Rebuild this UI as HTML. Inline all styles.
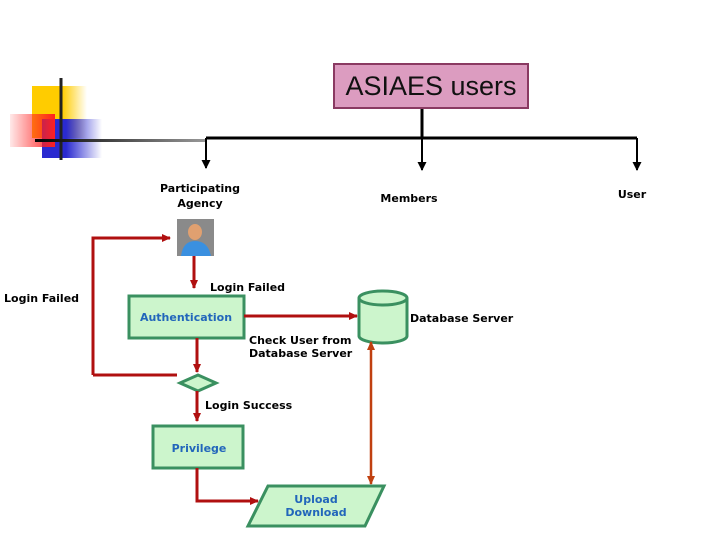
<!DOCTYPE html>
<html><head><meta charset="utf-8"><style>
html,body{margin:0;padding:0;background:#fff;width:720px;height:540px;overflow:hidden}
svg text{font-family:"DejaVu Sans","Liberation Sans",sans-serif;font-size:11px;font-weight:bold}
</style></head><body>
<svg width="720" height="540" viewBox="0 0 720 540" xmlns="http://www.w3.org/2000/svg">
<defs>
<linearGradient id="gy" x1="0" x2="1"><stop offset="0.55" stop-color="#ffcc00"/><stop offset="1" stop-color="#ffcc00" stop-opacity="0"/></linearGradient>
<linearGradient id="gb" x1="0" x2="1"><stop offset="0.4" stop-color="#2a2ad0"/><stop offset="1" stop-color="#2a2ad0" stop-opacity="0"/></linearGradient>
<linearGradient id="gr" x1="1" x2="0"><stop offset="0" stop-color="#ff2020"/><stop offset="1" stop-color="#ff2020" stop-opacity="0.1"/></linearGradient>
<linearGradient id="gl" x1="0" x2="1"><stop offset="0" stop-color="#000"/><stop offset="1" stop-color="#999"/></linearGradient>
<marker id="ab" markerWidth="9" markerHeight="9" refX="8" refY="4.5" orient="auto" markerUnits="userSpaceOnUse"><path d="M0,0 L9,4.5 L0,9z" fill="#000"/></marker>
<marker id="ar" markerWidth="9" markerHeight="8" refX="8" refY="4" orient="auto" markerUnits="userSpaceOnUse"><path d="M0,0 L9,4 L0,8z" fill="#b01010"/></marker>
<marker id="ao" markerWidth="9" markerHeight="8" refX="8" refY="4" orient="auto-start-reverse" markerUnits="userSpaceOnUse"><path d="M0,0 L9,4 L0,8z" fill="#c04010"/></marker>
</defs>
<rect x="32" y="86" width="55" height="52" fill="url(#gy)"/>
<rect x="42" y="119" width="60" height="39" fill="url(#gb)"/>
<rect x="10" y="114" width="45" height="33" fill="url(#gr)"/>
<line x1="61" y1="78" x2="61" y2="160" stroke="#222" stroke-width="3"/>
<rect x="35" y="139" width="171" height="3" fill="url(#gl)"/>
<path d="M206,138 H637" stroke="#000" stroke-width="3" fill="none"/>
<line x1="422" y1="108" x2="422" y2="138" stroke="#000" stroke-width="3"/>
<line x1="206" y1="138" x2="206" y2="168" stroke="#000" stroke-width="2" marker-end="url(#ab)"/>
<line x1="422" y1="138" x2="422" y2="170" stroke="#000" stroke-width="2" marker-end="url(#ab)"/>
<line x1="637" y1="138" x2="637" y2="170" stroke="#000" stroke-width="2" marker-end="url(#ab)"/>
<rect x="334" y="64" width="194" height="44" fill="#dc9cc0" stroke="#8a3a62" stroke-width="2"/>
<text x="431" y="95" text-anchor="middle" style="font-family:'Liberation Sans',sans-serif;font-size:27px;font-weight:normal" fill="#111">ASIAES users</text>
<text x="200" y="192" text-anchor="middle">Participating</text>
<text x="200" y="207" text-anchor="middle">Agency</text>
<text x="409" y="202" text-anchor="middle">Members</text>
<text x="632" y="198" text-anchor="middle">User</text>
<rect x="177" y="219" width="37" height="37" fill="#8a8a8a"/>
<ellipse cx="195" cy="232" rx="7" ry="8" fill="#e0a070"/>
<path d="M181,256 Q183,241 195,241 Q208,241 211,256z" fill="#3a90e0"/>
<path d="M93,375 V238 H170" stroke="#b01010" stroke-width="3" fill="none" marker-end="url(#ar)"/>
<line x1="93" y1="375" x2="177" y2="375" stroke="#b01010" stroke-width="3"/>
<line x1="194" y1="256" x2="194" y2="288" stroke="#b01010" stroke-width="3" marker-end="url(#ar)"/>
<text x="210" y="291">Login Failed</text>
<text x="4" y="302">Login Failed</text>
<rect x="129" y="296" width="115" height="42" fill="#ccf5cc" stroke="#3a9060" stroke-width="3"/>
<text x="186" y="321" text-anchor="middle" fill="#2266bb">Authentication</text>
<line x1="244" y1="316" x2="357" y2="316" stroke="#b01010" stroke-width="3" marker-end="url(#ar)"/>
<path d="M359,298 V336 A24,7 0 0 0 407,336 V298" fill="#ccf5cc" stroke="#3a9060" stroke-width="3"/>
<ellipse cx="383" cy="298" rx="24" ry="7" fill="#ccf5cc" stroke="#3a9060" stroke-width="3"/>
<text x="410" y="322">Database Server</text>
<text x="249" y="344">Check User from</text>
<text x="249" y="357">Database Server</text>
<line x1="197" y1="338" x2="197" y2="372" stroke="#b01010" stroke-width="3" marker-end="url(#ar)"/>
<polygon points="180,383 198,375 216,383 198,391" fill="#ccf5cc" stroke="#3a9060" stroke-width="3"/>
<line x1="197" y1="391" x2="197" y2="421" stroke="#b01010" stroke-width="3" marker-end="url(#ar)"/>
<text x="205" y="409">Login Success</text>
<rect x="153" y="426" width="90" height="42" fill="#ccf5cc" stroke="#3a9060" stroke-width="3"/>
<text x="199" y="452" text-anchor="middle" fill="#2266bb">Privilege</text>
<path d="M197,468 V501 H258" stroke="#b01010" stroke-width="3" fill="none" marker-end="url(#ar)"/>
<polygon points="268,486 384,486 365,526 248,526" fill="#ccf5cc" stroke="#3a9060" stroke-width="3"/>
<text x="316" y="503" text-anchor="middle" fill="#2266bb">Upload</text>
<text x="316" y="516" text-anchor="middle" fill="#2266bb">Download</text>
<line x1="371" y1="342" x2="371" y2="484" stroke="#c04010" stroke-width="2.5" marker-start="url(#ao)" marker-end="url(#ao)"/>
</svg>
</body></html>
